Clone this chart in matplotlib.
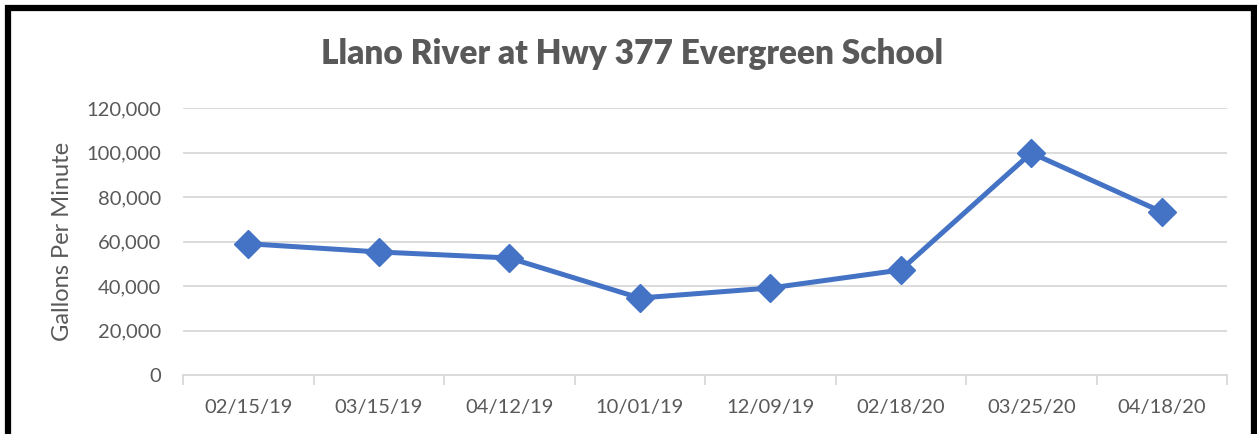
import matplotlib.pyplot as plt
from matplotlib.patches import Rectangle
from matplotlib.ticker import FuncFormatter, FixedLocator

# Datumy měření a průtok
dates = ['02/15/19', '03/15/19', '04/12/19', '10/01/19',
         '12/09/19', '02/18/20', '03/25/20', '04/18/20']
flow = [59000, 55300, 52600, 34600, 39100, 47200, 99800, 73300]

W, H = 1257, 434
fig = plt.figure(figsize=(W / 100, H / 100), dpi=100)
plt.rcParams['font.family'] = ['Lato', 'DejaVu Sans']

ax = fig.add_axes([183 / W, 1 - 375 / H, (1227 - 183) / W, (375 - 108) / H])

x = range(len(dates))
ax.plot(x, flow, color='#4472C4', lw=3.6, marker='D', ms=14,
        markerfacecolor='#4472C4', markeredgecolor='#4472C4')

ax.set_xlim(-0.5, len(dates) - 0.5)
ax.set_ylim(0, 120000)
ax.set_yticks(range(0, 120001, 20000))
ax.yaxis.set_major_formatter(FuncFormatter(lambda v, p: f'{int(v):,}'))
ax.set_xticks(list(x))
ax.set_xticklabels(dates)
ax.xaxis.set_minor_locator(FixedLocator([i - 0.5 for i in range(len(dates) + 1)]))

ax.grid(axis='y', color='#D9D9D9', lw=1.3)
ax.set_axisbelow(True)
for s in ['top', 'right', 'left']:
    ax.spines[s].set_visible(False)
ax.spines['bottom'].set_color('#D9D9D9')
ax.spines['bottom'].set_linewidth(1.3)

ax.tick_params(axis='y', length=0, pad=16, labelsize=14.5, labelcolor='#595959')
ax.tick_params(axis='x', which='major', length=0, pad=17, labelsize=14.5, labelcolor='#595959')
ax.tick_params(axis='x', which='minor', length=7, width=1.3, color='#D9D9D9')

ax.set_ylabel('Gallons Per Minute', fontsize=17, color='#595959', labelpad=9)
fig.text(632 / W, 1 - 54 / H, 'Llano River at Hwy 377 Evergreen School',
         ha='center', va='center', fontsize=24, fontweight='heavy', color='#595959')

# černý rámeček kolem grafu (spodní hrana je oříznutá)
fig.patches.append(Rectangle((8 / W, -0.1), (1253.5 - 8) / W, 1.1 - 8 / H,
                             transform=fig.transFigure, fill=False,
                             edgecolor='black', lw=4.5, clip_on=False))

fig.savefig('out.png', dpi=100)
